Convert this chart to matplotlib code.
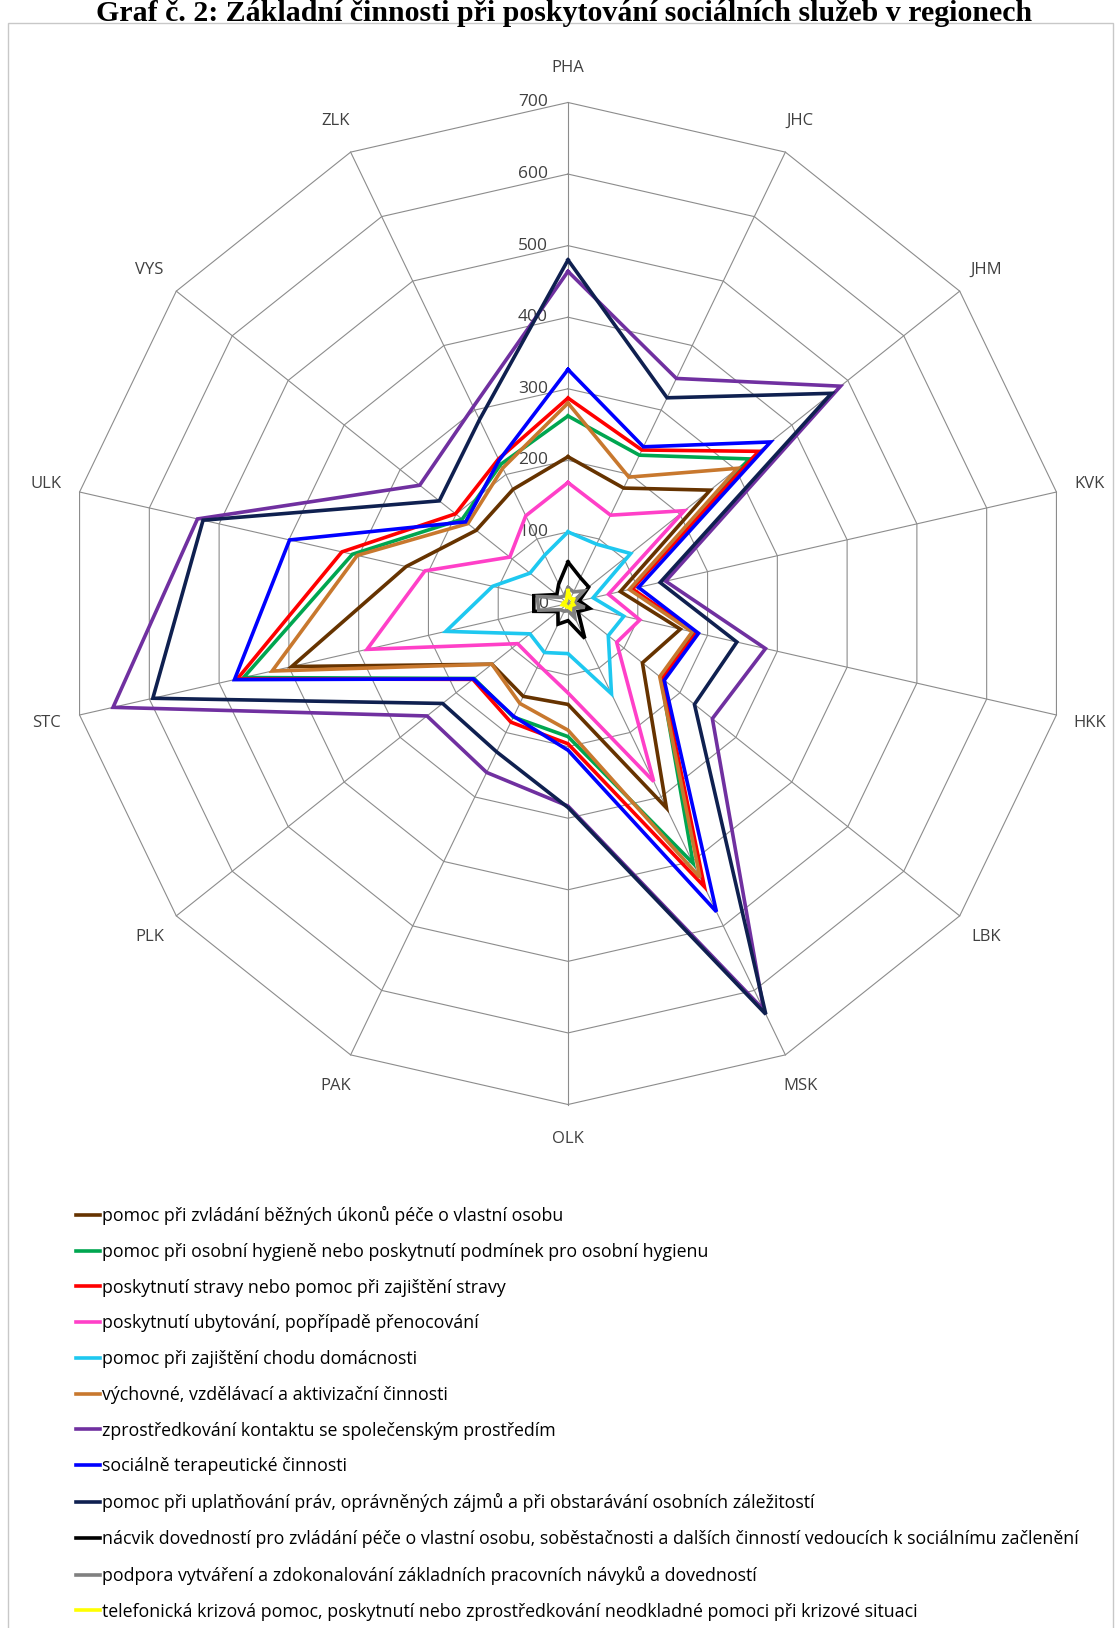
import numpy as np
import matplotlib
matplotlib.use("Agg")
import matplotlib.pyplot as plt
from matplotlib.patches import Rectangle

# Regions (clockwise from the top) and radial scale
regions = ["PHA", "JHC", "JHM", "KVK", "HKK", "LBK", "MSK",
           "OLK", "PAK", "PLK", "STC", "ULK", "VYS", "ZLK"]
r_ticks = [0, 100, 200, 300, 400, 500, 600, 700]

# Number of services per activity and region (same region order as above)
pece_o_osobu = [205, 179, 254, 75, 161, 133, 317, 141, 144, 136, 396, 232, 164, 177]
hygiena = [262, 230, 324, 90, 181, 166, 403, 186, 176, 168, 465, 309, 189, 216]
strava = [287, 238, 341, 92, 184, 168, 439, 196, 184, 170, 474, 324, 201, 224]
ubytovani = [169, 137, 208, 58, 103, 87, 276, 125, 95, 90, 288, 205, 104, 136]
domacnost = [100, 92, 112, 36, 80, 72, 140, 70, 76, 68, 175, 108, 68, 75]
vychovne = [280, 196, 303, 88, 178, 164, 425, 177, 155, 136, 424, 302, 179, 210]
kontakt = [464, 349, 487, 140, 283, 258, 630, 283, 262, 252, 652, 531, 265, 305]
terapeuticke = [327, 243, 362, 101, 187, 172, 478, 205, 175, 169, 478, 399, 183, 222]
prava = [480, 319, 471, 132, 242, 226, 637, 285, 230, 224, 595, 523, 230, 285]
nacvik = [58, 40, 37, 16, 31, 18, 54, 24, 32, 18, 49, 49, 20, 30]
navyky = [22, 18, 28, 8, 24, 10, 22, 10, 12, 14, 42, 44, 14, 12]
krizova = [18, 8, 10, 6, 8, 5, 8, 5, 5, 4, 8, 6, 4, 5]

series_labels = [
    "pomoc při zvládání běžných úkonů péče o vlastní osobu",
    "pomoc při osobní hygieně nebo poskytnutí podmínek pro osobní hygienu",
    "poskytnutí stravy nebo pomoc při zajištění stravy",
    "poskytnutí ubytování, popřípadě přenocování",
    "pomoc při zajištění chodu domácnosti",
    "výchovné, vzdělávací a aktivizační činnosti",
    "zprostředkování kontaktu se společenským prostředím",
    "sociálně terapeutické činnosti",
    "pomoc při uplatňování práv, oprávněných zájmů a při obstarávání osobních záležitostí",
    "nácvik dovedností pro zvládání péče o vlastní osobu, soběstačnosti a dalších činností vedoucích k sociálnímu začlenění",
    "podpora vytváření a zdokonalování základních pracovních návyků a dovedností",
    "telefonická krizová pomoc, poskytnutí nebo zprostředkování neodkladné pomoci při krizové situaci",
]
series_values = [pece_o_osobu, hygiena, strava, ubytovani, domacnost, vychovne,
                 kontakt, terapeuticke, prava, nacvik, navyky, krizova]
series_colors = ["#663300", "#00A650", "#FF0000", "#FF40C8", "#1EC8F0", "#C8782E",
                 "#7030A0", "#0000FF", "#0F2050", "#000000", "#808080", "#FFFF00"]

TITLE = "Graf č. 2: Základní činnosti při poskytování sociálních služeb v regionech"
GRID = "#8c8c8c"
TEXT = "#404040"
FONT = ["Open Sans", "DejaVu Sans"]

W, H = 1117, 1628
fig = plt.figure(figsize=(W / 100, H / 100), dpi=100)

# chart frame and title
fig.add_artist(Rectangle((8 / W, -0.01), (1113 - 8) / W, 1 - 23 / H + 0.01,
                         transform=fig.transFigure, fill=False,
                         edgecolor="#c8c8c8", lw=1.0))
fig.text(0.505, 1 - 21 / H, TITLE, ha="center", va="baseline", fontsize=21.5,
         fontweight="bold", family="Liberation Serif", color="black")

cx, cy, rad = 568, 603.5, 501
ax = fig.add_axes([(cx - rad) / W, 1 - (cy + rad) / H, 2 * rad / W, 2 * rad / H],
                  projection="polar")
ax.set_theta_zero_location("N")
ax.set_theta_direction(-1)
ax.set_ylim(0, 700)
ax.grid(False)
ax.spines["polar"].set_visible(False)
ax.set_xticks([])
ax.set_yticks([])
ax.patch.set_alpha(0)

n = len(regions)
theta = np.arange(n) * 2 * np.pi / n
theta_c = np.append(theta, theta[0])

# polygon web
for r in r_ticks[1:]:
    ax.plot(theta_c, [r] * (n + 1), color=GRID, lw=0.8, clip_on=False, zorder=1)
for t in theta:
    ax.plot([t, t], [0, r_ticks[-1]], color=GRID, lw=0.8, clip_on=False, zorder=1)

for r in r_ticks:
    ax.annotate(str(r), xy=(0, r), xytext=(-20, 0), textcoords="offset pixels",
                ha="right", va="center", fontsize=12.5, color=TEXT, family=FONT,
                zorder=2)

for t, name in zip(theta, regions):
    ax.text(t, 748, name, ha="center", va="center", fontsize=12,
            color=TEXT, family=FONT)

handles = []
for vals, col, lab in zip(series_values, series_colors, series_labels):
    v = list(vals) + [vals[0]]
    ln, = ax.plot(theta_c, v, color=col, lw=2.6, label=lab, zorder=3,
                  solid_joinstyle="miter")
    handles.append(ln)

leg = fig.legend(handles, series_labels, loc="upper left",
                 bbox_to_anchor=(76 / W, 1 - 1206 / H), frameon=False,
                 handlelength=1.35, handletextpad=0.1, labelspacing=1.0,
                 borderpad=0, borderaxespad=0,
                 prop={"family": FONT, "size": 12.8})
for txt in leg.get_texts():
    txt.set_color("black")

fig.savefig("out.png", dpi=100)
